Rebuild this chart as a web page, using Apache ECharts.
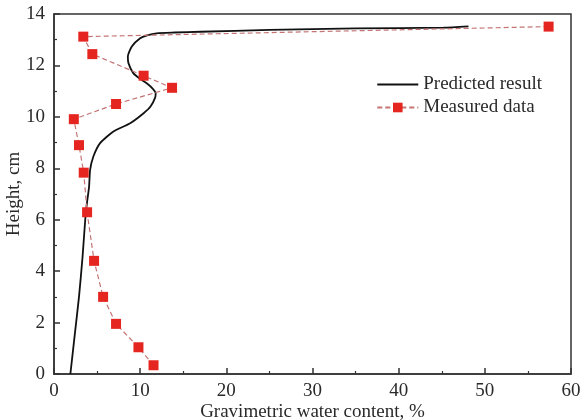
<!DOCTYPE html>
<html lang="en">
<head>
  <meta charset="UTF-8">
  <title>Water content profile</title>
  <style>
    html, body { margin: 0; padding: 0; background: #fff; }
  </style>
</head>
<body>
<div id="main" style="width:582px; height:420px;"></div>
<script type="text/javascript" src="https://fastly.jsdelivr.net/npm/echarts@6.0.0/dist/echarts.min.js"></script>
<script>
  // measured points: water content (%) and height (cm), bottom to top
  var measuredX = [11.55, 9.8, 7.2, 5.7, 4.65, 3.84, 3.45, 2.9, 2.3, 7.2, 13.7, 10.4, 4.45, 3.4, 57.4];
  var measuredY = [0.34, 1.04, 1.95, 3.0, 4.4, 6.29, 7.83, 8.9, 9.91, 10.5, 11.13, 11.6, 12.44, 13.12, 13.51];

  // predicted curve
  var predictedX = [1.9, 2.4, 2.9, 3.3, 3.7, 4.07, 4.19, 4.57, 5.35, 6.9, 8.84, 10.4, 11.2, 11.74, 11.8, 11.5, 10.8, 9.9, 9.2, 8.64, 8.57, 9.03, 10.0, 10.8, 11.9, 14, 17, 25, 35, 45.2, 48.1];
  var predictedY = [0, 1.5, 3.0, 4.5, 6.3, 7.29, 7.94, 8.46, 8.98, 9.43, 9.75, 10.14, 10.4, 10.75, 10.92, 11.08, 11.3, 11.5, 11.7, 12.09, 12.35, 12.74, 13.06, 13.17, 13.25, 13.28, 13.31, 13.38, 13.44, 13.47, 13.52];

  var seriesNames = ['Predicted result', 'Measured data'];

  function pairs(xs, ys) {
    return xs.map(function (x, i) { return [x, ys[i]]; });
  }

  var serif = 'Liberation Serif';
  var chart = echarts.init(document.getElementById('main'));

  var axisCommon = {
    type: 'value',
    nameLocation: 'middle',
    nameMoveOverlap: false,
    nameTextStyle: { fontFamily: serif, fontSize: 19, color: '#2a2a2a' },
    axisLine: { show: true, lineStyle: { color: '#333', width: 1.5 } },
    axisTick: { show: true, inside: true, length: 6, lineStyle: { color: '#333', width: 1.5 } },
    minorTick: { show: true, splitNumber: 2, length: 3, lineStyle: { color: '#333', width: 1.2 } },
    splitLine: { show: false },
    axisLabel: { fontFamily: serif, fontSize: 19, color: '#2a2a2a' }
  };

  var option = {
    animation: false,
    backgroundColor: '#fff',
    grid: {
      left: 54, right: 11, top: 14, bottom: 46,
      outerBoundsMode: 'none',
      containLabel: false,
      show: true, borderColor: '#333', borderWidth: 1.5, backgroundColor: 'transparent'
    },
    legend: {
      data: [
        { name: seriesNames[0], itemStyle: { opacity: 0 } },
        { name: seriesNames[1] }
      ],
      right: 35,
      top: 70,
      orient: 'vertical',
      itemWidth: 41,
      itemHeight: 12,
      itemGap: 4,
      textStyle: { fontFamily: serif, fontSize: 19, color: '#2a2a2a' }
    },
    xAxis: Object.assign({}, axisCommon, {
      min: 0, max: 60, interval: 10,
      name: 'Gravimetric water content, %',
      nameGap: 29,
      axisLabel: Object.assign({}, axisCommon.axisLabel, { margin: 8 })
    }),
    yAxis: Object.assign({}, axisCommon, {
      min: 0, max: 14, interval: 2,
      name: 'Height, cm',
      nameGap: 30,
      axisLabel: Object.assign({}, axisCommon.axisLabel, { margin: 9 })
    }),
    series: [
      {
        name: seriesNames[0],
        type: 'line',
        data: pairs(predictedX, predictedY),
        symbol: 'none',
        smooth: 0.2,
        lineStyle: { color: '#111', width: 1.8 },
        itemStyle: { color: '#111' },
        z: 2
      },
      {
        name: seriesNames[1],
        type: 'line',
        data: pairs(measuredX, measuredY),
        symbol: 'rect',
        symbolSize: 10,
        lineStyle: { color: '#c47474', width: 1.2, type: [5, 3] },
        itemStyle: { color: '#e52620' },
        z: 3
      }
    ]
  };

  chart.setOption(option);
</script>
</body>
</html>
